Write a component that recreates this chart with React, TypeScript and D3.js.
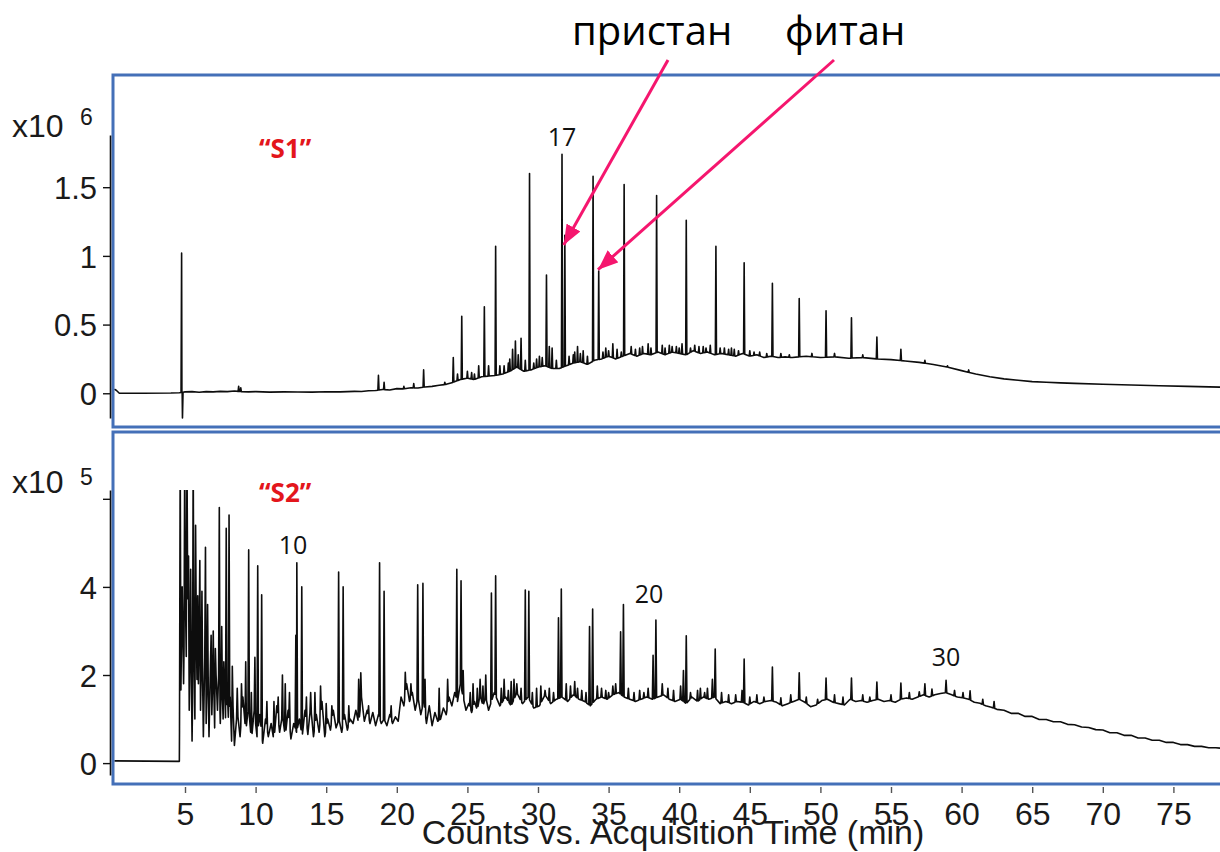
import React, { useEffect, useRef } from 'react';
import * as d3 from 'd3';

const W = 1220;
const H = 852;

// retention time, min
const timeDomain = [0, 78.3];
const timeTicks = [5, 10, 15, 20, 25, 30, 35, 40, 45, 50, 55, 60, 65, 70, 75];

// "S1", counts x10^6
const s1Ticks = [0, 0.5, 1, 1.5];
const s1Baseline: [number, number][] = [
  [0, 0.03], [0.15, 0.02], [0.35, 0], [2, 0], [4, 0.002], [4.6, 0.004], [5, 0.01], [5.5, 0.012],
  [6, 0.008], [6.5, 0.012], [7, 0.01], [7.5, 0.014], [8, 0.012], [8.5, 0.016], [9, 0.012], [9.5, 0.01],
  [10, 0.012], [11, 0.008], [12, 0.01], [13, 0.009], [14, 0.008], [15, 0.011], [16, 0.01], [17, 0.014],
  [17.5, 0.013], [18, 0.018], [18.5, 0.02], [19, 0.028], [19.5, 0.024], [20, 0.034], [20.5, 0.032], [21, 0.04],
  [21.5, 0.038], [22, 0.046], [22.5, 0.05], [23, 0.058], [23.5, 0.065], [24, 0.08], [24.5, 0.1], [25, 0.11],
  [25.5, 0.1], [26, 0.12], [26.5, 0.125], [27, 0.13], [27.5, 0.14], [28, 0.16], [28.5, 0.19], [29, 0.16],
  [29.5, 0.17], [30, 0.19], [30.5, 0.2], [31, 0.18], [31.5, 0.18], [32, 0.2], [32.5, 0.22], [33, 0.23],
  [33.5, 0.21], [34, 0.24], [34.5, 0.25], [35, 0.27], [35.5, 0.25], [36, 0.27], [36.5, 0.29], [37, 0.27],
  [37.5, 0.29], [38, 0.28], [38.5, 0.3], [39, 0.28], [39.5, 0.3], [40, 0.29], [40.5, 0.28], [41, 0.31],
  [41.5, 0.29], [42, 0.3], [42.5, 0.28], [43, 0.29], [43.5, 0.28], [44, 0.27], [44.5, 0.29], [45, 0.27],
  [45.5, 0.28], [46, 0.26], [46.5, 0.27], [47, 0.26], [47.5, 0.265], [48, 0.26], [49, 0.27], [50, 0.26],
  [51, 0.265], [52, 0.255], [53, 0.26], [54, 0.25], [55, 0.245], [56, 0.235], [57, 0.225], [58, 0.21],
  [59, 0.19], [60, 0.165], [61, 0.14], [62, 0.12], [63, 0.105], [64, 0.095], [65, 0.085], [66, 0.08],
  [67, 0.076], [68, 0.072], [70, 0.066], [72, 0.06], [74, 0.055], [76, 0.05], [78.3, 0.045],
];
const s1Peaks: [number, number][] = [
  [4.76, 1.02], [4.82, -0.18], [8.8, 0.05], [8.95, 0.04], [18.7, 0.13], [19.1, 0.08], [20.5, 0.05],
  [21.2, 0.07], [21.9, 0.17], [23.4, 0.08], [24.0, 0.26], [24.6, 0.56], [25.3, 0.15], [25.8, 0.2],
  [26.2, 0.63], [26.5, 0.2], [27.0, 1.07], [27.6, 0.2], [28.2, 0.32], [28.4, 0.38], [28.6, 0.28],
  [28.8, 0.4], [29.4, 1.6], [30.1, 0.27], [30.6, 0.86], [30.8, 0.34], [31.0, 0.33], [31.7, 1.74],
  [31.9, 1.15], [32.5, 0.28], [32.8, 0.34], [33.2, 0.31], [33.9, 1.58], [34.3, 0.89], [34.8, 0.33],
  [35.3, 0.36], [36.1, 1.52], [36.6, 0.34], [37.2, 0.33], [37.8, 0.36], [38.4, 1.44], [38.8, 0.35],
  [39.5, 0.34], [40.2, 0.36], [40.5, 1.26], [41.1, 0.35], [41.7, 0.34], [42.2, 0.35], [42.6, 1.07],
  [43.2, 0.33], [43.9, 0.32], [44.6, 0.95], [45.3, 0.3], [46.6, 0.8], [48.5, 0.69], [50.4, 0.6],
  [52.2, 0.55], [54.0, 0.41], [55.7, 0.32], [57.4, 0.24], [59.0, 0.2], [60.5, 0.17],
];
// small bumps riding on the hump
const s1Minor: [number, number][] = [
  [24.3, 0.14], [25.0, 0.16], [25.5, 0.14], [27.3, 0.2], [27.9, 0.22], [28.0, 0.25], [29.1, 0.24],
  [29.7, 0.22], [29.9, 0.25], [30.3, 0.26], [31.3, 0.24], [32.2, 0.27], [32.6, 0.3], [33.0, 0.29],
  [33.5, 0.27], [34.6, 0.3], [35.0, 0.31], [35.6, 0.32], [35.9, 0.3], [36.9, 0.32], [37.4, 0.34],
  [38.0, 0.33], [39.0, 0.33], [39.3, 0.35], [39.8, 0.34], [40.0, 0.33], [40.8, 0.33], [41.4, 0.34],
  [41.9, 0.33], [42.9, 0.33], [43.5, 0.32], [43.7, 0.33], [44.2, 0.31], [45.0, 0.31], [45.7, 0.3],
  [46.2, 0.29], [47.2, 0.29], [47.8, 0.28], [49.4, 0.29], [51.0, 0.29], [53.0, 0.28],
];

// "S2", counts x10^5
const s2Ticks = [0, 2, 4, 6];
const s2Baseline: [number, number][] = [
  [0, 0.05], [4.6, 0.04], [4.62, 1.4],
  [4.7, 1.4], [4.8, 4.0], [4.9, 1.8], [5.0, 4.4], [5.1, 2.2], [5.2, 3.9], [5.3, 1.2], [5.4, 3.6],
  [5.5, 0.5], [5.6, 3.2], [5.7, 1.0], [5.8, 3.0], [5.9, 0.8], [6.0, 2.8], [6.1, 1.2], [6.2, 3.1],
  [6.3, 0.6], [6.4, 2.4], [6.5, 0.9], [6.6, 2.6], [6.7, 0.6], [6.8, 2.2], [6.9, 1.1], [7.0, 2.4],
  [7.1, 0.8], [7.2, 2.0], [7.3, 1.2], [7.4, 2.2], [7.5, 0.9], [7.6, 2.1], [7.7, 1.0], [7.8, 1.8],
  [7.9, 0.7], [8.0, 1.6], [8.1, 0.8], [8.2, 1.5], [8.3, 0.5], [8.4, 1.3], [8.5, 0.4],
  [8.7, 1.2], [8.9, 0.6], [9.1, 1.5], [9.3, 0.7], [9.5, 1.3], [9.7, 0.5], [9.9, 1.2], [10.1, 0.6],
  [10.3, 1.1], [10.5, 0.45], [10.7, 1.0], [10.9, 0.6], [11.1, 0.9], [11.3, 0.5], [11.5, 1.3], [11.7, 0.7],
  [11.9, 1.1], [12.1, 0.6], [12.3, 1.2], [12.5, 0.55], [12.7, 0.9], [12.9, 0.7], [13.1, 1.0], [13.3, 0.6],
  [13.5, 1.2], [13.7, 0.65], [13.9, 1.3], [14.1, 0.6], [14.3, 1.1], [14.5, 0.7], [14.7, 1.4], [14.9, 0.6],
  [15.1, 1.0], [15.3, 0.75], [15.5, 1.2], [15.7, 0.8], [15.9, 1.0], [16.1, 0.7], [16.3, 1.1], [16.5, 0.75],
  [16.7, 1.0], [16.9, 0.9], [17.1, 1.2], [17.3, 0.9], [17.5, 1.5], [17.7, 0.95], [17.9, 1.2], [18.1, 0.9],
  [18.3, 1.15], [18.5, 0.85], [18.7, 1.1], [18.9, 0.9], [19.1, 1.0], [19.3, 0.85], [19.5, 1.1], [19.7, 0.9],
  [19.9, 1.05], [20.1, 0.95], [20.3, 1.5], [20.5, 1.3], [20.7, 1.8], [20.9, 1.4], [21.1, 1.6], [21.3, 1.2],
  [21.5, 1.5], [21.7, 1.1], [21.9, 1.4], [22.1, 0.9], [22.3, 1.3], [22.5, 0.85], [22.7, 1.15], [22.9, 0.95],
  [23.1, 1.0], [23.3, 1.25], [23.5, 1.1], [23.7, 1.5], [23.9, 1.3], [24.1, 1.6], [24.3, 1.4], [24.5, 1.8],
  [24.7, 1.5], [24.9, 1.2], [25.1, 1.35], [25.3, 1.15], [25.5, 1.4], [25.7, 1.2], [25.9, 1.55], [26.1, 1.3],
  [26.3, 1.5], [26.5, 1.2],
  [26.9, 1.6], [27.3, 1.3], [27.7, 1.5], [28.1, 1.3], [28.5, 1.6], [28.9, 1.35], [29.3, 1.5], [29.7, 1.25],
  [30.1, 1.3], [30.5, 1.55], [30.9, 1.35], [31.3, 1.45], [31.7, 1.5], [32.1, 1.4], [32.5, 1.55], [32.9, 1.45],
  [33.3, 1.4], [33.7, 1.3], [34.1, 1.45], [34.5, 1.5], [34.9, 1.45], [35.3, 1.55], [35.7, 1.6], [36.1, 1.5],
  [36.5, 1.45], [36.9, 1.4], [37.3, 1.45], [37.7, 1.5], [38.1, 1.45], [38.5, 1.5], [38.9, 1.55], [39.3, 1.45],
  [39.7, 1.4], [40.1, 1.45], [40.5, 1.35], [40.9, 1.5], [41.3, 1.4], [41.7, 1.5], [42.1, 1.45], [42.5, 1.5],
  [42.9, 1.35], [43.3, 1.4], [43.7, 1.35], [44.1, 1.4], [44.5, 1.38], [44.9, 1.32], [45.3, 1.4], [45.7, 1.35],
  [46.1, 1.4], [46.5, 1.42], [46.9, 1.38], [47.3, 1.3], [47.7, 1.35], [48.1, 1.4], [48.5, 1.45], [48.9, 1.38],
  [49.3, 1.28], [49.7, 1.32], [50.1, 1.42], [50.5, 1.45], [50.9, 1.38], [51.3, 1.35], [51.7, 1.32], [52.1, 1.45],
  [52.5, 1.4], [52.9, 1.42], [53.3, 1.38], [53.7, 1.42], [54.1, 1.45], [54.5, 1.4], [54.9, 1.42], [55.3, 1.38],
  [55.7, 1.45], [56.1, 1.48], [56.5, 1.45], [56.9, 1.5], [57.3, 1.55], [57.7, 1.5], [58.1, 1.55], [58.5, 1.58],
  [58.9, 1.6], [59.3, 1.55], [59.7, 1.5], [60.1, 1.48], [60.5, 1.45], [60.9, 1.38], [61.3, 1.36], [61.7, 1.3],
  [62.1, 1.27], [62.5, 1.22],
  [63, 1.2], [63.5, 1.13], [64, 1.13], [64.5, 1.06], [65, 1.06], [65.5, 0.99], [66, 0.99], [66.5, 0.94],
  [67, 0.94], [67.5, 0.88], [68, 0.87], [68.5, 0.82], [69, 0.81], [69.5, 0.76], [70, 0.75], [70.5, 0.69],
  [71, 0.69], [71.5, 0.63], [72, 0.63], [72.5, 0.57], [73, 0.57], [73.5, 0.52], [74, 0.52], [74.5, 0.47],
  [75, 0.47], [75.5, 0.42], [76, 0.42], [76.5, 0.38], [77, 0.38], [77.5, 0.35], [78, 0.35], [78.3, 0.34],
];
const s2Peaks: [number, number][] = [
  [4.66, 7], [4.98, 7], [5.14, 7], [5.25, 4.7], [5.4, 4.4], [5.58, 7], [5.75, 5.4], [5.9, 3.8],
  [6.05, 4.6], [6.2, 3.9], [6.45, 4.9], [6.6, 3.6], [6.85, 2.9], [7.0, 3.0], [7.15, 2.6], [7.43, 5.8],
  [7.6, 3.1], [7.75, 2.3], [7.92, 5.33], [8.12, 5.63], [8.35, 2.2], [8.7, 1.7], [9.0, 1.8], [9.3, 2.3],
  [9.51, 4.84], [9.7, 1.6], [9.95, 2.4], [10.15, 4.48], [10.43, 3.82], [10.8, 1.4], [11.3, 1.4], [11.6, 1.5],
  [11.9, 2.0], [12.1, 1.8], [12.4, 1.6], [12.85, 2.9], [12.92, 4.55], [13.27, 4.0], [13.6, 1.5], [13.9, 1.6],
  [14.2, 1.6], [14.6, 1.75], [15.0, 1.35], [15.4, 1.3], [15.88, 4.34], [16.2, 4.0], [16.6, 1.3], [17.3, 1.9],
  [17.45, 2.05], [18.0, 1.3], [18.78, 4.55], [19.1, 3.9], [19.6, 1.3], [20.6, 2.06], [21.0, 1.8], [21.48, 4.05],
  [21.85, 4.08], [22.0, 1.9], [23.0, 1.7], [23.6, 1.9], [24.25, 4.4], [24.55, 4.14], [24.7, 2.1], [25.4, 1.8],
  [25.9, 1.9], [26.3, 2.0], [26.7, 3.86], [27.0, 4.25], [27.6, 1.9], [28.1, 1.85], [28.5, 1.8], [29.1, 3.93],
  [29.35, 3.9], [29.9, 1.7], [30.5, 1.65], [31.45, 3.3], [31.65, 3.95], [32.0, 1.8], [32.8, 1.7], [33.65, 3.1],
  [33.87, 3.5], [34.2, 1.75], [35.0, 1.6], [35.85, 2.98], [36.05, 3.6], [37.5, 1.6], [38.15, 2.45], [38.35, 3.25],
  [38.8, 1.8], [40.1, 1.75], [40.3, 2.1], [40.5, 2.89], [41.8, 1.6], [42.35, 1.9], [42.55, 2.59], [44.0, 1.55],
  [44.45, 1.65], [44.6, 2.36], [46.6, 2.18], [48.5, 2.05], [50.4, 1.93], [52.2, 1.93], [54.0, 1.84], [55.7, 1.82],
  [57.4, 1.8], [58.9, 1.88], [60.6, 1.64], [62.3, 1.4],
];
const s2Minor: [number, number][] = [
  [25.2, 1.6], [25.7, 1.7], [26.1, 1.75], [27.4, 1.7], [27.9, 1.65], [28.3, 1.9], [28.8, 1.7], [29.6, 1.6],
  [30.2, 1.75], [30.8, 1.7], [31.1, 1.6], [32.3, 1.75], [32.6, 1.85], [33.1, 1.65], [33.4, 1.6], [34.5, 1.7],
  [34.8, 1.65], [35.3, 1.75], [35.5, 1.8], [36.4, 1.7], [36.8, 1.6], [37.2, 1.65], [37.8, 1.7], [39.2, 1.7],
  [39.6, 1.65], [40.8, 1.6], [41.3, 1.65], [41.5, 1.7], [42.0, 1.7], [43.0, 1.6], [43.5, 1.55], [45.0, 1.5],
  [45.5, 1.55], [46.0, 1.5], [47.2, 1.48], [47.9, 1.55], [49.0, 1.5], [49.8, 1.45], [51.0, 1.55], [51.6, 1.5],
  [53.0, 1.55], [53.5, 1.5], [55.0, 1.55], [56.3, 1.6], [57.0, 1.62], [57.9, 1.68], [59.5, 1.65], [60.1, 1.6],
  [61.5, 1.45],
];

// carbon-number labels: [time, level, text]
const s1Labels: [number, number, string][] = [[31.7, 1.8, '17']];
const s2Labels: [number, number, string][] = [[12.65, 4.75, '10'], [37.86, 3.63, '20'], [58.9, 2.2, '30']];

// pristane / phytane callouts: [peak time, level, text]
const callouts: [number, number, string][] = [[31.82, 1.08, 'пристан'], [34.25, 0.9, 'фитан']];

const AXIS_FONT = '"Liberation Sans", Arial, sans-serif';
const NOTE_FONT = '"Open Sans", "Noto Sans", sans-serif';
const FRAME = '#4470b8';
const PINK = '#f5166e';

// baseline + narrow spikes, sorted by time
function buildTrace(baseline: [number, number][], peaks: [number, number][], hw: number) {
  const base = d3.scaleLinear()
    .domain(baseline.map(d => d[0]))
    .range(baseline.map(d => d[1]))
    .clamp(true);
  const inPeak = (t: number) => peaks.some(p => Math.abs(t - p[0]) <= hw);
  const pts: [number, number][] = baseline.filter(d => !inPeak(d[0])).map(d => [d[0], d[1]]);
  peaks.forEach(([t, top]) => {
    pts.push([t - hw, base(t - hw)]);
    pts.push([t, top]);
    pts.push([t + hw, base(t + hw)]);
  });
  return pts.sort((a, b) => a[0] - b[0]);
}

const App = () => {
  const svgRef = useRef<SVGSVGElement>(null);

  useEffect(() => {
    const svg = d3.select(svgRef.current);
    svg.selectAll('*').remove();

    const x = d3.scaleLinear().domain(timeDomain).range([114.4, 1220]);
    const y1 = d3.scaleLinear().domain([-0.18, 1.88]).range([418, 135]);
    const y2 = d3.scaleLinear().domain([-0.27, 6.2]).range([775, 490]);

    const defs = svg.append('defs');
    defs.append('clipPath').attr('id', 'clip1')
      .append('rect').attr('x', 113).attr('y', 76).attr('width', 1110).attr('height', 350);
    defs.append('clipPath').attr('id', 'clip2')
      .append('rect').attr('x', 113).attr('y', 490).attr('width', 1110).attr('height', 293);
    defs.append('marker')
      .attr('id', 'head')
      .attr('markerUnits', 'userSpaceOnUse')
      .attr('markerWidth', 22).attr('markerHeight', 16)
      .attr('refX', 20).attr('refY', 8)
      .attr('orient', 'auto')
      .append('path').attr('d', 'M0,0 L20,8 L0,16 Z').attr('fill', PINK);

    // traces
    const panels = [
      { y: y1, data: buildTrace(s1Baseline, s1Peaks.concat(s1Minor), 0.04), clip: 'clip1' },
      { y: y2, data: buildTrace(s2Baseline, s2Peaks.concat(s2Minor), 0.05), clip: 'clip2' },
    ];
    panels.forEach(p => {
      const line = d3.line<[number, number]>()
        .x(d => x(d[0]))
        .y(d => p.y(d[1]));
      svg.append('path')
        .datum(p.data)
        .attr('clip-path', `url(#${p.clip})`)
        .attr('fill', 'none')
        .attr('stroke', '#0d0d0d')
        .attr('stroke-width', 1.6)
        .attr('stroke-linejoin', 'round')
        .attr('d', line);
    });

    // frames
    svg.append('rect').attr('x', 113).attr('y', 75).attr('width', 1112).attr('height', 352)
      .attr('fill', 'none').attr('stroke', FRAME).attr('stroke-width', 3);
    svg.append('rect').attr('x', 113).attr('y', 432).attr('width', 1112).attr('height', 352)
      .attr('fill', 'none').attr('stroke', FRAME).attr('stroke-width', 3);

    // y axes
    const styleY = (g: d3.Selection<SVGGElement, unknown, null, undefined>) => {
      g.select('.domain').attr('stroke', '#111').attr('stroke-width', 1.6);
      g.selectAll('.tick line').attr('stroke', '#111').attr('stroke-width', 1.4);
      g.selectAll('.tick text')
        .attr('font-family', AXIS_FONT).attr('font-size', 31).attr('fill', '#1a1a1a').attr('dy', '0.36em');
    };
    svg.append('g')
      .attr('transform', 'translate(110,0)')
      .call(d3.axisLeft(y1).tickValues(s1Ticks).tickSize(7).tickSizeOuter(0).tickPadding(6)
        .tickFormat(d => String(d)))
      .call(styleY);
    svg.append('g')
      .attr('transform', 'translate(110,0)')
      .call(d3.axisLeft(y2).tickValues(s2Ticks).tickSize(7).tickSizeOuter(0).tickPadding(6)
        .tickFormat(d => (d === 6 ? '' : String(d))))
      .call(styleY);

    // exponents
    [[137, 125, '6'], [493, 485, '5']].forEach(([yb, ye, e]) => {
      svg.append('text').attr('x', 12).attr('y', yb as number)
        .attr('font-family', AXIS_FONT).attr('font-size', 32).attr('fill', '#1a1a1a').text('x10');
      svg.append('text').attr('x', 80).attr('y', ye as number)
        .attr('font-family', AXIS_FONT).attr('font-size', 23).attr('fill', '#1a1a1a').text(e as string);
    });

    // x axis
    const gx = svg.append('g')
      .attr('transform', 'translate(0,787)')
      .call(d3.axisBottom(x).tickValues(timeTicks).tickSize(6).tickPadding(9).tickFormat(d => String(d)));
    gx.select('.domain').remove();
    gx.selectAll('.tick line').attr('stroke', '#555').attr('stroke-width', 1.4);
    gx.selectAll('.tick text')
      .attr('font-family', AXIS_FONT).attr('font-size', 32).attr('fill', '#1a1a1a');

    svg.append('text')
      .attr('x', 673).attr('y', 844)
      .attr('text-anchor', 'middle')
      .attr('font-family', AXIS_FONT).attr('font-size', 34).attr('fill', '#1a1a1a')
      .text('Counts vs. Acquisition Time (min)');

    // sample names
    [['“S1”', 158], ['“S2”', 502]].forEach(([t, yb]) => {
      svg.append('text').attr('x', 259).attr('y', yb as number)
        .attr('font-family', NOTE_FONT).attr('font-weight', 700).attr('font-size', 26)
        .attr('fill', '#e3161c').text(t as string);
    });

    // carbon numbers
    const addLabels = (labels: [number, number, string][], y: d3.ScaleLinear<number, number>) => {
      labels.forEach(([t, v, s]) => {
        svg.append('text').attr('x', x(t)).attr('y', y(v))
          .attr('text-anchor', 'middle')
          .attr('font-family', NOTE_FONT).attr('font-size', 25).attr('fill', '#111').text(s);
      });
    };
    addLabels(s1Labels, y1);
    addLabels(s2Labels, y2);

    // pristane / phytane arrows
    const tails = [[668, 60, 572], [834, 60, 785]];
    callouts.forEach(([t, v, s], i) => {
      const [tx, ty, lx] = tails[i];
      svg.append('line')
        .attr('x1', tx).attr('y1', ty)
        .attr('x2', x(t)).attr('y2', y1(v))
        .attr('stroke', PINK).attr('stroke-width', 3)
        .attr('marker-end', 'url(#head)');
      svg.append('text').attr('x', lx).attr('y', 45)
        .attr('font-family', NOTE_FONT).attr('font-size', 40).attr('fill', '#000').text(s);
    });
  }, []);

  return (
    <svg
      ref={svgRef}
      width={W}
      height={H}
      style={{ position: 'absolute', left: 0, top: 0, background: '#fff', display: 'block' }}
    />
  );
};

export default App;
